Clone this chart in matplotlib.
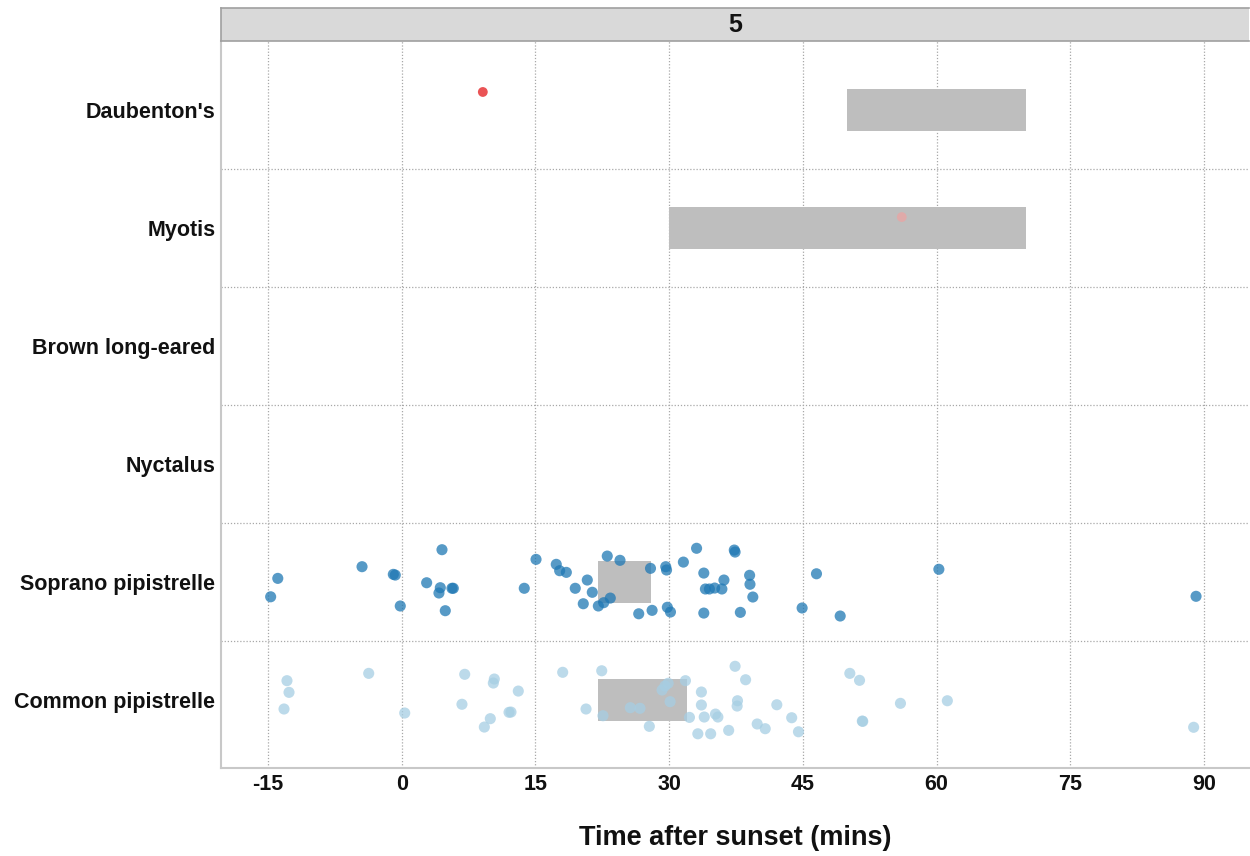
import matplotlib
matplotlib.use("Agg")
import matplotlib.pyplot as plt
from matplotlib.patches import Rectangle

plt.rcParams['font.family'] = ['Liberation Sans', 'DejaVu Sans']
plt.rcParams['font.weight'] = 'bold'

# ---- data ----
species = ["Common pipistrelle", "Soprano pipistrelle", "Nyctalus",
           "Brown long-eared", "Myotis", "Daubenton's"]
species_colors = {"Common pipistrelle": "#a6cee3", "Soprano pipistrelle": "#1f78b4",
                  "Nyctalus": "#b2df8a", "Brown long-eared": "#33a02c",
                  "Myotis": "#fb9a99", "Daubenton's": "#e31a1c"}
x_ticks = [-15, 0, 15, 30, 45, 60, 75, 90]
facet_label = "5"

# expected emergence windows (start, end) in mins after sunset
window_species = ["Daubenton's", "Myotis", "Soprano pipistrelle", "Common pipistrelle"]
window_start = [50, 30, 22, 22]
window_end = [70, 70, 28, 32]

# observed passes: time (mins) and vertical jitter
daub_time = [9.1]
daub_jit = [0.153]
myotis_time = [56.1]
myotis_jit = [0.093]
soprano_time = [-14.7, -13.9, -4.45, -0.94, -0.72, -0.16, 4.52, 2.80, 4.33, 4.18,
                5.64, 5.79, 4.89, 13.75, 15.07, 17.34, 17.72, 18.47, 19.47, 20.37,
                20.82, 21.38, 22.06, 22.66, 23.40, 23.06, 24.49, 26.59, 27.91, 28.09,
                29.62, 29.71, 29.80, 30.15, 31.60, 33.08, 33.89, 33.89, 34.07, 34.52,
                35.11, 35.92, 36.15, 37.31, 37.40, 37.99, 39.03, 39.07, 39.39, 44.92,
                46.53, 49.19, 60.26, 89.11]
soprano_jit = [-0.125, 0.031, 0.130, 0.065, 0.059, -0.203, 0.274, -0.006, -0.048, -0.093,
               -0.053, -0.053, -0.243, -0.053, 0.192, 0.150, 0.096, 0.082, -0.053, -0.184,
               0.017, -0.087, -0.203, -0.175, -0.136, 0.220, 0.184, -0.269, 0.116, -0.240,
               0.130, 0.102, -0.214, -0.254, 0.169, 0.286, 0.076, -0.263, -0.059, -0.059,
               -0.051, -0.059, 0.017, 0.271, 0.254, -0.257, 0.057, -0.019, -0.127, -0.220,
               0.070, -0.288, 0.108, -0.121]
common_time = [-12.87, -12.64, -13.20, -3.70, 0.34, 7.07, 6.76, 10.39, 10.28, 13.08,
               12.04, 12.26, 9.94, 9.27, 18.06, 22.44, 20.68, 22.58, 25.65, 26.73,
               27.78, 29.21, 29.53, 29.89, 30.11, 31.83, 32.28, 33.22, 33.62, 33.62,
               33.94, 34.66, 35.20, 35.47, 36.68, 37.40, 37.67, 37.63, 38.58, 39.88,
               40.78, 42.08, 43.75, 44.51, 50.27, 51.36, 51.67, 51.72, 55.95, 61.21,
               88.84]
common_jit = [0.164, 0.065, -0.076, 0.226, -0.110, 0.218, -0.036, 0.178, 0.144, 0.076,
              -0.104, -0.102, -0.158, -0.229, 0.235, 0.248, -0.076, -0.133, -0.065, -0.070,
              -0.223, 0.085, 0.119, 0.142, -0.014, 0.164, -0.147, -0.286, 0.068, -0.042,
              -0.144, -0.286, -0.119, -0.144, -0.257, 0.286, -0.006, -0.051, 0.172, -0.203,
              -0.243, -0.040, -0.150, -0.269, 0.226, 0.167, -0.178, -0.181, -0.028, -0.006,
              -0.231]

obs = {"Daubenton's": (daub_time, daub_jit),
       "Myotis": (myotis_time, myotis_jit),
       "Soprano pipistrelle": (soprano_time, soprano_jit),
       "Common pipistrelle": (common_time, common_jit)}

# ---- figure ----
fig = plt.figure(figsize=(12.5, 8.56), dpi=100)
ax = fig.add_axes([0.1768, 0.1028, 0.8224, 0.8493])
ypos = {s: i + 1 for i, s in enumerate(species)}

grid_kw = dict(color="#a8a8a8", linestyle=(0, (1, 1.5)), linewidth=0.9, zorder=0)
for xt in x_ticks:
    ax.axvline(xt, **grid_kw)
for i in range(len(species) - 1):
    ax.axhline(i + 1.5, **grid_kw)

bh = 0.35
for s, a, b in zip(window_species, window_start, window_end):
    ax.add_patch(Rectangle((a, ypos[s] - bh / 2), b - a, bh,
                           facecolor="#bebebe", edgecolor="none", zorder=2))

for s, (t, j) in obs.items():
    yy = [ypos[s] + v for v in j]
    alpha = 0.75 if s != "Myotis" else 0.55
    size = 64 if s in ("Soprano pipistrelle", "Common pipistrelle") else 50
    ax.scatter(t, yy, s=size, color=species_colors[s], alpha=alpha,
               edgecolors="none", zorder=3)

ax.set_xlim(-20.27, 95.05)
ax.set_ylim(0.424, 6.585)
ax.set_xticks(x_ticks)
ax.set_xticklabels([str(v) for v in x_ticks])
ax.set_yticks([ypos[s] for s in species])
ax.set_yticklabels(species)
ax.tick_params(axis="both", length=0, labelsize=15.5, colors="#111111")
ax.tick_params(axis="x", pad=4)
ax.tick_params(axis="y", pad=4)
for lab in ax.get_xticklabels() + ax.get_yticklabels():
    lab.set_fontweight("bold")
ax.set_xlabel("Time after sunset (mins)", fontsize=19.5, fontweight="bold",
              labelpad=22, color="#111111")
for side in ("top", "right"):
    ax.spines[side].set_visible(False)
for side in ("left", "bottom"):
    ax.spines[side].set_color("#c8c8c8")
    ax.spines[side].set_linewidth(1.5)

# facet strip
sax = fig.add_axes([0.1768, 0.9521, 0.8224, 0.0386])
sax.set_facecolor("#d9d9d9")
sax.set_xticks([])
sax.set_yticks([])
for side in sax.spines.values():
    side.set_color("#a0a0a0")
    side.set_linewidth(1.2)
sax.spines["right"].set_visible(False)
sax.text(0.5, 0.47, facet_label, ha="center", va="center", fontsize=18,
         fontweight="bold", color="#111111", transform=sax.transAxes)

fig.savefig("out.png", dpi=100)
